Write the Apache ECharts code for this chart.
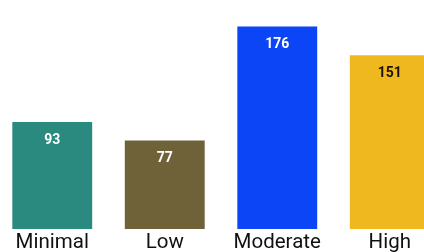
<!DOCTYPE html>
<html>
<head>
<meta charset="utf-8">
<script src="https://cdn.jsdelivr.net/npm/echarts@6/dist/echarts.min.js"></script>
<style>
  html, body { margin: 0; padding: 0; background: #fff; overflow: hidden; }
  /* plot runs past the right edge, as in the reference */
  #chart { width: 450px; height: 252px; margin-left: -4px; }
</style>
</head>
<body>
<div id="chart"></div>
<script>
const categories = ['Minimal', 'Low', 'Moderate', 'High']
const counts = [93, 77, 176, 151]
const barColors = ['#2b8a80', '#6f6239', '#0b45f5', '#f0b81f']
const labelColors = ['#ffffff', '#ffffff', '#ffffff', '#1a1208']

const chart = echarts.init(document.getElementById('chart'))

chart.setOption({
  animation: false,
  grid: {
    left: 0,
    right: 0,
    top: -1,
    bottom: 23,
    containLabel: false,
    outerBoundsMode: 'none'
  },
  xAxis: {
    type: 'category',
    data: categories,
    axisLine: { show: false },
    axisTick: { show: false },
    axisLabel: {
      interval: 0,
      color: '#111',
      fontFamily: 'Roboto',
      fontSize: 20.5,
      margin: 3
    }
  },
  yAxis: {
    type: 'value',
    min: 0,
    max: 200,
    show: false,
    splitLine: { show: false }
  },
  series: [
    {
      type: 'bar',
      barCategoryGap: '29%',
      data: counts.map((v, i) => ({
        value: v,
        itemStyle: { color: barColors[i] },
        label: { color: labelColors[i] }
      })),
      label: {
        show: true,
        position: 'insideTop',
        distance: 11,
        fontFamily: 'Roboto',
        fontWeight: 'bold',
        fontSize: 14
      }
    }
  ]
})
</script>
</body>
</html>
